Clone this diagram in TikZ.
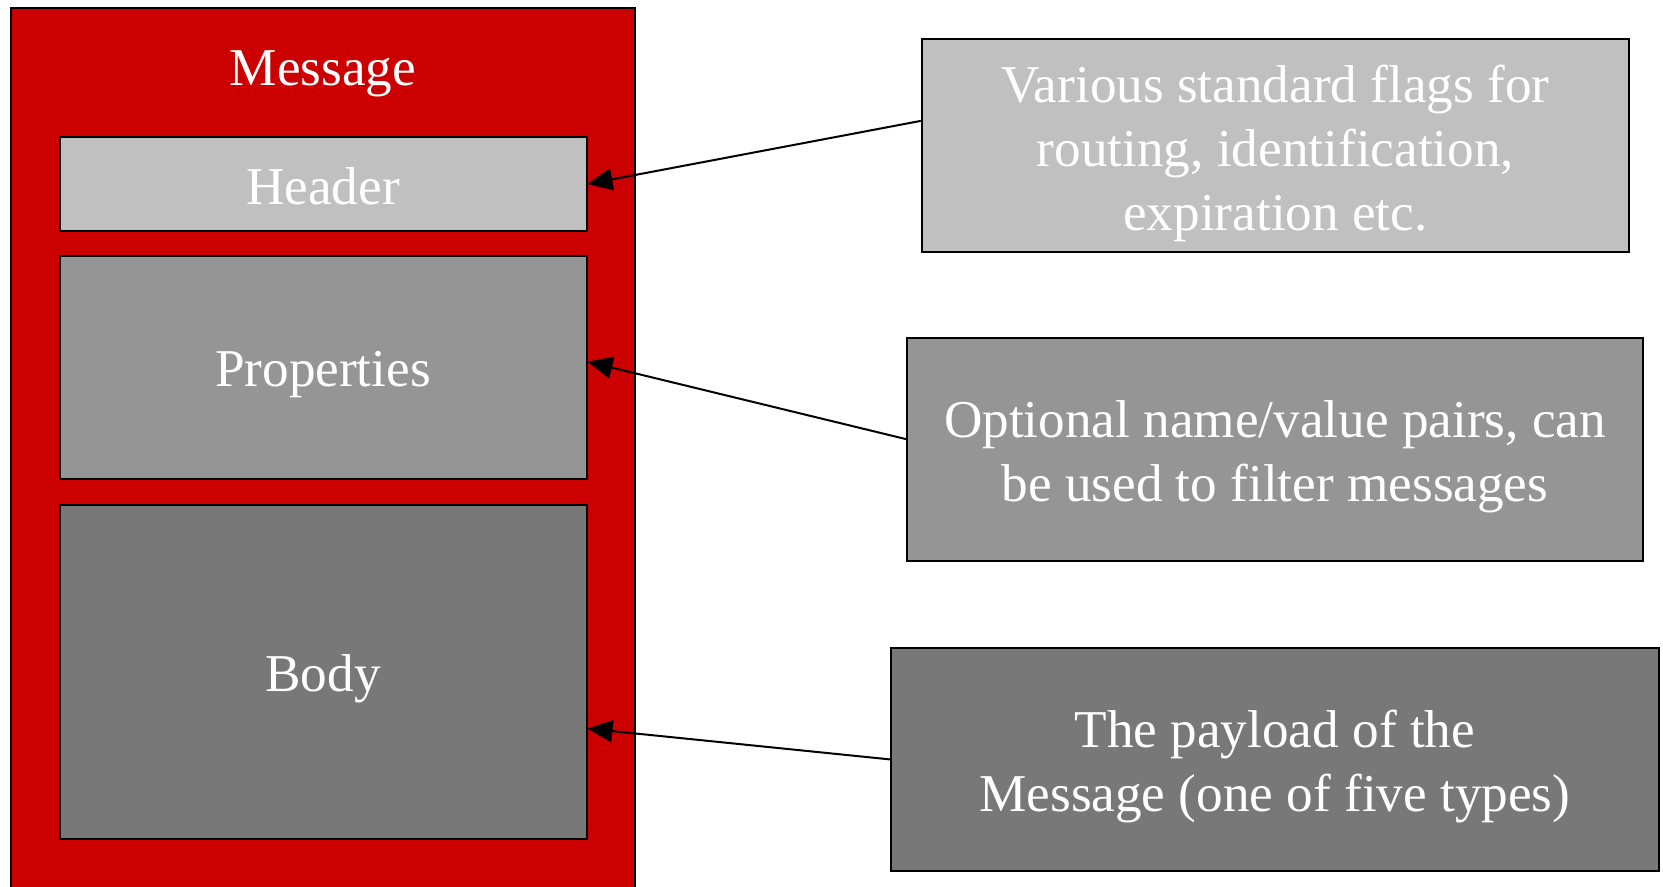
\documentclass[tikz,border=0pt]{standalone}
\usepackage{fontspec}
\setmainfont{Liberation Serif}
\usetikzlibrary{arrows.meta,calc}
\definecolor{msgred}{HTML}{CC0000}
\definecolor{gLight}{HTML}{C0C0C0}
\definecolor{gMid}{HTML}{959595}
\definecolor{gDark}{HTML}{787878}
\begin{document}
\begin{tikzpicture}[x=0.5pt,y=-0.5pt,
  part/.style={rectangle,draw=black,line width=1pt,inner sep=0pt},
  lbl/.style={text=white,align=center,inner sep=0pt,yshift=-3.7pt,
    font=\fontsize{26.6}{32}\selectfont},
  conn/.style={line width=1pt,-{Triangle[length=12.5pt,width=11pt]}}]
\useasboundingbox (0,0) rectangle (1663,887);
\clip (0,0) rectangle (1663,887);
\fill[white] (0,0) rectangle (1663,887);
\node[part,fill=msgred,minimum width=312.2pt,minimum height=446pt] (msg) at (322.8,454) {};
\node[lbl] (msgtitle) at (322.8,66.4) {Message};
\node[part,fill=gLight,minimum width=263.5pt,minimum height=47.2pt,
  label={[lbl,yshift=2.65pt]center:Header}] (hdr) at (323,184) {};
\node[part,fill=gMid,minimum width=263.5pt,minimum height=111.9pt,
  label={[lbl]center:Properties}] (prop) at (323,367.5) {};
\node[part,fill=gDark,minimum width=263.5pt,minimum height=167pt,
  label={[lbl]center:Body}] (body) at (323,671.8) {};
\node[part,fill=gLight,minimum width=353.6pt,minimum height=106.6pt,
  label={[lbl]center:{Various standard flags for\\routing, identification,\\expiration etc.}}] (d1) at (1275.4,145.8) {};
\node[part,fill=gMid,minimum width=368pt,minimum height=111.3pt,
  label={[lbl]center:{Optional name/value pairs, can\\be used to filter messages}}] (d2) at (1274.9,449.7) {};
\node[part,fill=gDark,minimum width=384pt,minimum height=111.3pt,
  label={[lbl]center:{The payload of the\\Message (one of five types)}}] (d3) at (1274.9,759.4) {};
\draw[conn] ([yshift=12.45pt]d1.west) -- (hdr.east);
\draw[conn] ([yshift=5.3pt]d2.west) -- ([yshift=2.9pt]prop.east);
\draw[conn] (d3.west) -- ([yshift=-28.4pt]body.east);
\end{tikzpicture}
\end{document}
